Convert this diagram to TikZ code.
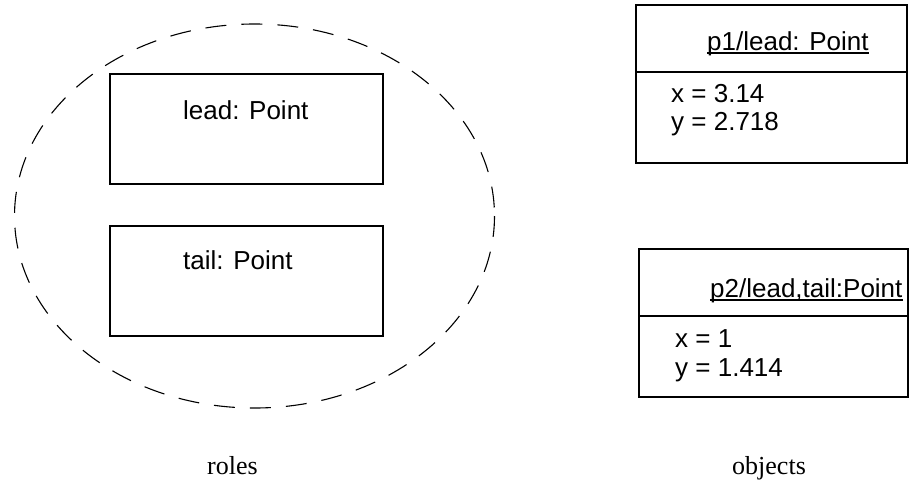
\documentclass[tikz,border=0pt]{standalone}
\usepackage{fontspec}
\setmainfont{Liberation Serif}
\newfontfamily\boxfont{Liberation Sans}
\begin{document}
\begin{tikzpicture}[x=1pt,y=-1pt,
  box/.style={draw=black,line width=2pt},
  txt/.style={anchor=base west,inner sep=0pt,font=\boxfont\fontsize{26}{30}\selectfont},
  lbl/.style={anchor=base west,inner sep=0pt,font=\fontsize{26}{30}\selectfont},
  ulin/.style={line width=1.6pt}]
\useasboundingbox (0,0) rectangle (912,482);
% roles
\draw[line width=1.1pt,dash pattern=on 21pt off 15pt] (254.5,216) ellipse [x radius=240, y radius=192];
\draw[box] (110,74) rectangle (383,184);
\draw[box] (110,226) rectangle (383,336);
\node[txt] (lead) at (183,119) {lead: Point};
\node[txt] (tail) at (183,269) {tail: Point};
% objects
\draw[box] (636,5) rectangle (907,163);
\draw[box] (636,72) -- (907,72);
\node[txt] (p1) at (707,50) {p1/lead: Point};
\draw[ulin] ([yshift=-3pt]p1.base west) -- ([yshift=-3pt]p1.base east);
\node[txt] (p1x) at (671,102) {x = 3.14};
\node[txt] (p1y) at (671,130) {y = 2.718};
\draw[box] (639,249) rectangle (908,397);
\draw[box] (639,316) -- (908,316);
\node[txt] (p2) at (710,297) {p2/lead,tail:Point};
\draw[ulin] ([yshift=-3pt]p2.base west) -- ([yshift=-3pt]p2.base east);
\node[txt] (p2x) at (675,347) {x = 1};
\node[txt] (p2y) at (675,376) {y = 1.414};
% captions
\node[lbl] (roles) at (207,474) {roles};
\node[lbl] (objects) at (732,474) {objects};
\end{tikzpicture}
\end{document}
